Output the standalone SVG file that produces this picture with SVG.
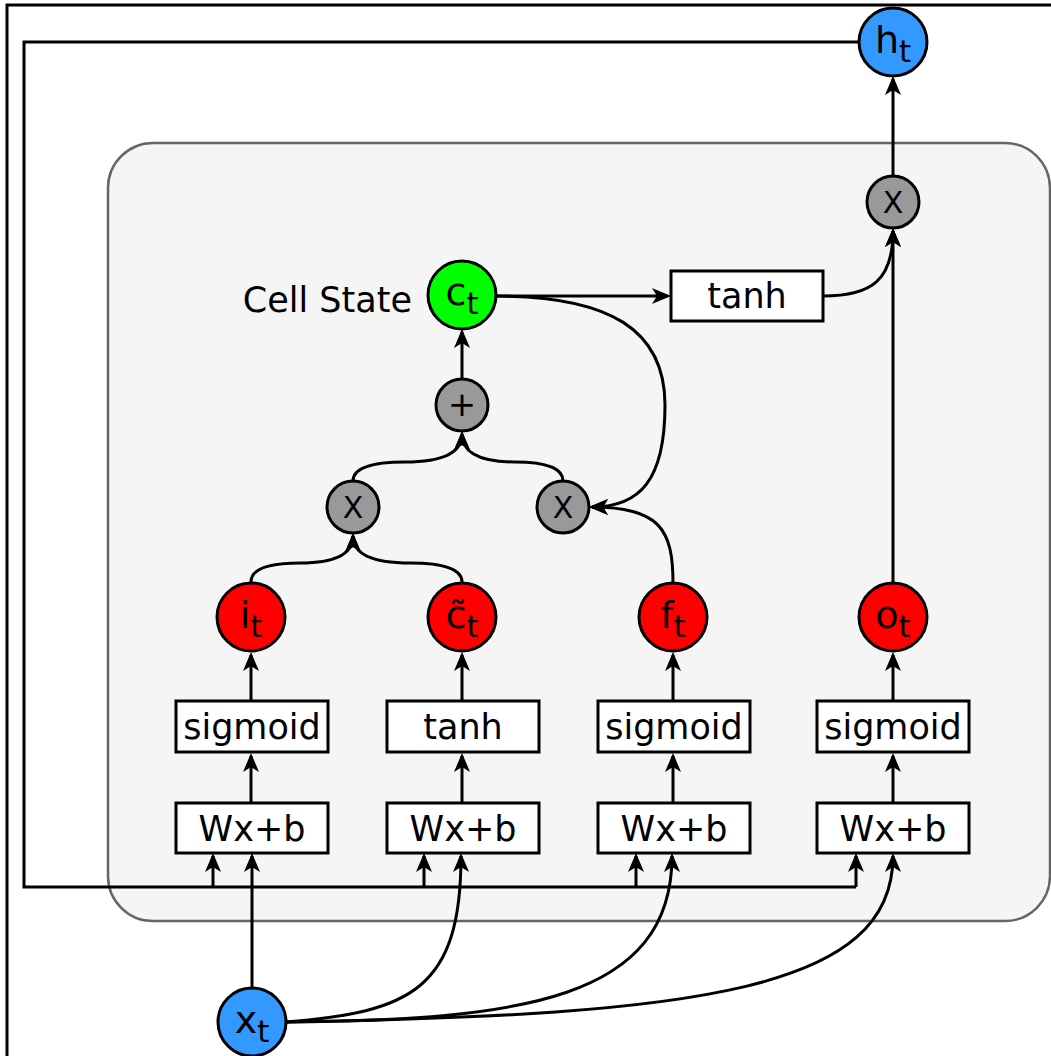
<svg xmlns="http://www.w3.org/2000/svg" width="1051" height="1056" viewBox="0 0 1051 1056">
<style>
.t{font-family:"DejaVu Sans",Verdana,sans-serif;font-size:35px;fill:#000;text-anchor:middle}
.lbl{font-family:"DejaVu Sans",Verdana,sans-serif;font-size:38px;fill:#000;text-anchor:middle}
.sub{font-size:31px}
.op{font-family:"DejaVu Sans",Verdana,sans-serif;font-size:30px;fill:#000;text-anchor:middle}
.box{fill:#fff;stroke:#000;stroke-width:3}
.node{stroke:#000;stroke-width:3}
.blue{fill:#3399ff}
.red{fill:#ff0000}
.green{fill:#00ff00}
.gray{fill:#999999}
.e{fill:none;stroke:#000;stroke-width:3}
.ea{fill:none;stroke:#000;stroke-width:3;marker-end:url(#arr)}
</style>
<defs>
<marker id="arr" markerUnits="userSpaceOnUse" markerWidth="19" markerHeight="16" viewBox="0 0 19 16" refX="16" refY="8" orient="auto">
<path d="M0,0 L19,8 L0,16 L5,8 Z" fill="#000"/>
</marker>
</defs>
<rect x="7" y="5" width="1100" height="1100" fill="#fff" stroke="#000" stroke-width="3"/>
<g id="cell"><rect x="108" y="143" width="942" height="778" rx="45" ry="45" fill="#f5f5f5" stroke="#666666" stroke-width="2.5"/></g>
<g id="connectors">
<path class="e" d="M859,42 H24 V887 H856"/>
<path class="ea" d="M856,887 V856"/>
<path class="ea" d="M213,887 V856"/>
<path class="ea" d="M424,887 V856"/>
<path class="ea" d="M636,887 V856"/>
<path class="ea" d="M252,988 V856"/>
<path class="ea" d="M286,1022 C410,1012 461,990 461,856"/>
<path class="ea" d="M286,1022 C520,1020 672,1000 672,856"/>
<path class="ea" d="M286,1022 C700,1015 893,990 893,856"/>
<path class="ea" d="M251,803 V756"/>
<path class="ea" d="M462,803 V756"/>
<path class="ea" d="M673,803 V756"/>
<path class="ea" d="M893,803 V756"/>
<path class="ea" d="M251,701 V655"/>
<path class="ea" d="M462,701 V655"/>
<path class="ea" d="M673,701 V655"/>
<path class="ea" d="M893,701 V655"/>
<path class="ea" d="M251,582 Q251,563 300,563 Q353,563 353,536"/>
<path class="ea" d="M462,582 Q462,563 410,563 Q353,563 353,536"/>
<path class="ea" d="M353,481 Q353,462 405,462 Q462,462 462,434"/>
<path class="ea" d="M563,481 Q563,462 515,462 Q462,462 462,434"/>
<path class="ea" d="M462,379 V332"/>
<path class="ea" d="M496,296 H668"/>
<path class="ea" d="M496,296 C610,296 665,330 665,405 C665,480 640,507 592,507"/>
<path class="ea" d="M673,583 C673,530 660,507 592,507"/>
<path class="ea" d="M823,296 C872,296 893,280 893,231"/>
<path class="ea" d="M893,583 V231"/>
<path class="ea" d="M893,176 V79"/>
</g>
<g id="h_t"><circle class="node blue" cx="893" cy="42" r="34"/><text class="lbl" x="893" y="53">h<tspan class="sub" dy="9">t</tspan></text></g>
<g id="x_out"><circle class="node gray" cx="893" cy="202" r="26"/><text class="op" x="893" y="213">X</text></g>
<g id="tanh_out"><rect class="box" x="671" y="271" width="152" height="50"/><text class="t" x="747" y="308">tanh</text></g>
<g id="cell_state_label"><text class="t" x="412" y="312" style="text-anchor:end">Cell State</text></g>
<g id="c_t"><circle class="node green" cx="462" cy="295" r="34"/><text class="lbl" x="462" y="305">c<tspan class="sub" dy="9">t</tspan></text></g>
<g id="plus"><circle class="node gray" cx="462" cy="405" r="26"/><text class="op" x="462" y="416" style="font-size:34px">+</text></g>
<g id="x_left"><circle class="node gray" cx="353" cy="507" r="26"/><text class="op" x="353" y="518">X</text></g>
<g id="x_right"><circle class="node gray" cx="563" cy="507" r="26"/><text class="op" x="563" y="518">X</text></g>
<g id="i_t"><circle class="node red" cx="251" cy="617" r="34"/><text class="lbl" x="251" y="628">i<tspan class="sub" dy="9">t</tspan></text></g>
<g id="ctilde_t"><circle class="node red" cx="462" cy="617" r="34"/><text class="lbl" x="462" y="628">c̃<tspan class="sub" dy="9">t</tspan></text></g>
<g id="f_t"><circle class="node red" cx="673" cy="617" r="34"/><text class="lbl" x="673" y="628">f<tspan class="sub" dy="9">t</tspan></text></g>
<g id="o_t"><circle class="node red" cx="893" cy="617" r="34"/><text class="lbl" x="893" y="628">o<tspan class="sub" dy="9">t</tspan></text></g>
<g id="sig1"><rect class="box" x="176" y="701" width="152" height="51"/><text class="t" x="252" y="739">sigmoid</text></g>
<g id="tanh2"><rect class="box" x="387" y="701" width="152" height="51"/><text class="t" x="463" y="739">tanh</text></g>
<g id="sig3"><rect class="box" x="598" y="701" width="152" height="51"/><text class="t" x="674" y="739">sigmoid</text></g>
<g id="sig4"><rect class="box" x="817" y="701" width="152" height="51"/><text class="t" x="893" y="739">sigmoid</text></g>
<g id="w1"><rect class="box" x="176" y="803" width="152" height="50"/><text class="t" x="252" y="841">Wx+b</text></g>
<g id="w2"><rect class="box" x="387" y="803" width="152" height="50"/><text class="t" x="463" y="841">Wx+b</text></g>
<g id="w3"><rect class="box" x="598" y="803" width="152" height="50"/><text class="t" x="674" y="841">Wx+b</text></g>
<g id="w4"><rect class="box" x="817" y="803" width="152" height="50"/><text class="t" x="893" y="841">Wx+b</text></g>
<g id="x_t"><circle class="node blue" cx="252" cy="1022" r="34"/><text class="lbl" x="252" y="1033">x<tspan class="sub" dy="9">t</tspan></text></g>
</svg>
